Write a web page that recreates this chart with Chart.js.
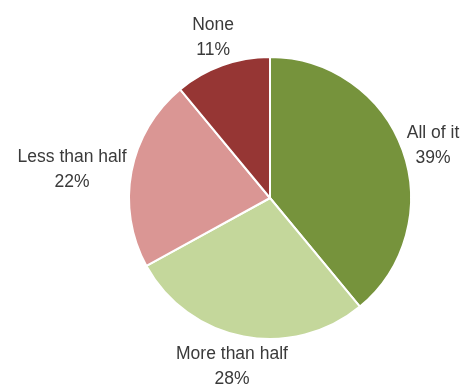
<!DOCTYPE html>
<html>
<head>
<meta charset="utf-8">
<script src="https://cdn.jsdelivr.net/npm/chart.js@4/dist/chart.umd.min.js"></script>
<style>
  html, body { margin: 0; padding: 0; background: #ffffff; }
  #wrap { width: 470px; height: 385px; }
</style>
</head>
<body>
<div id="wrap"><canvas id="shareChart" width="470" height="385"></canvas></div>
<script>
const categories = ["All of it", "More than half", "Less than half", "None"];
const shares = [39, 28, 22, 11];
const sliceColors = ["#76933c", "#c4d79b", "#da9694", "#963634"];

// Two-line "name / percent" labels placed just outside each slice
const outsideLabels = {
  id: "outsideLabels",
  afterDatasetsDraw(chart) {
    const ctx = chart.ctx;
    const meta = chart.getDatasetMeta(0);
    const lineHeight = 25;
    ctx.save();
    ctx.font = "17.5px 'Liberation Sans', Arial, sans-serif";
    ctx.fillStyle = "#3a3a3a";
    ctx.textAlign = "center";
    ctx.textBaseline = "middle";
    meta.data.forEach((arc, i) => {
      const { x, y, startAngle, endAngle, outerRadius } = arc.getProps(
        ["x", "y", "startAngle", "endAngle", "outerRadius"],
        true
      );
      const mid = (startAngle + endAngle) / 2;
      const lines = [categories[i], shares[i] + "%"];
      const w = Math.max(...lines.map((l) => ctx.measureText(l).width));
      const h = lineHeight * lines.length;
      const ax = x + Math.cos(mid) * (outerRadius + 6);
      const ay = y + Math.sin(mid) * (outerRadius + 6);
      const cx = ax + Math.cos(mid) * (w / 2);
      // side labels sit closer to their anchor height
      const cy = ay + Math.sin(mid) * (h / 2) * Math.abs(Math.sin(mid));
      lines.forEach((l, k) => {
        ctx.fillText(l, cx, cy - h / 2 + lineHeight * (k + 0.5));
      });
    });
    ctx.restore();
  },
};

new Chart(document.getElementById("shareChart"), {
  type: "pie",
  data: {
    labels: categories,
    datasets: [
      {
        data: shares,
        backgroundColor: sliceColors,
        borderColor: "#ffffff",
        borderWidth: 2,
      },
    ],
  },
  options: {
    responsive: false,
    animation: false,
    layout: { padding: { top: 56, bottom: 45, left: 128, right: 58 } },
    plugins: {
      legend: { display: false },
      tooltip: { enabled: false },
    },
  },
  plugins: [outsideLabels],
});
</script>
</body>
</html>
